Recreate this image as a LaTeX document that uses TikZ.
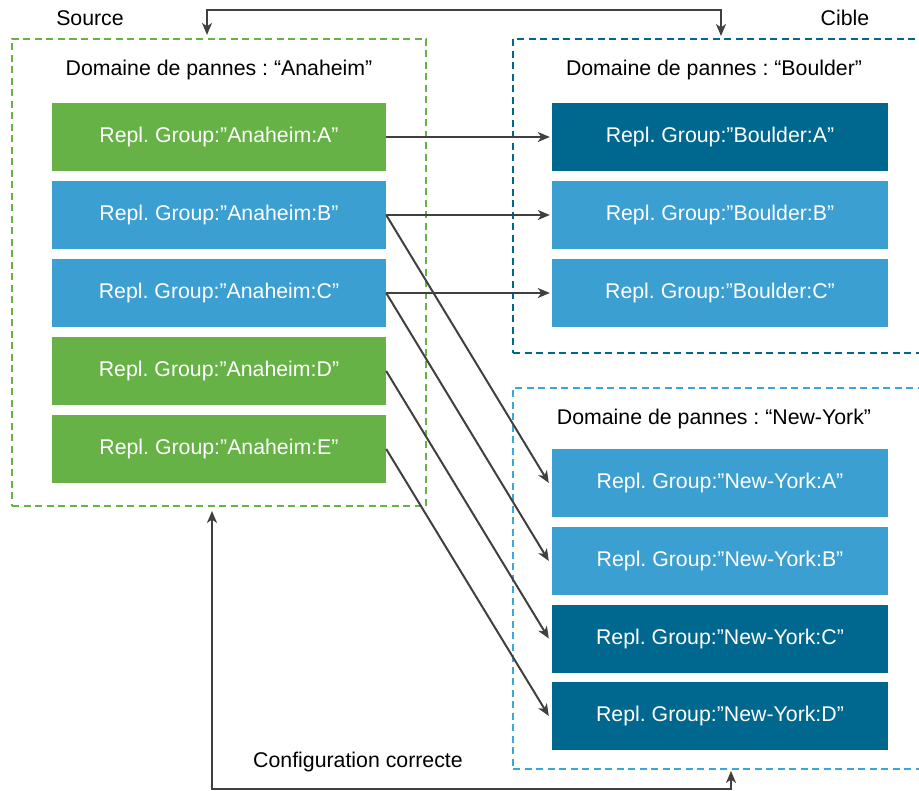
\documentclass[tikz,border=0pt]{standalone}
\usepackage{fontspec}
\setmainfont{Liberation Sans}
\usetikzlibrary{arrows.meta}
\definecolor{grn}{HTML}{67B246}
\definecolor{lblue}{HTML}{3C9FD2}
\definecolor{dblue}{HTML}{00688F}
\definecolor{nyline}{HTML}{3CA6DA}
\definecolor{arr}{HTML}{404040}
\frenchspacing
\begin{document}
\begin{tikzpicture}[x=1pt,y=-1pt,
  every node/.style={font=\fontsize{21.3}{25}\selectfont, inner sep=0pt},
  grp/.style={rectangle, minimum width=334pt, minimum height=68pt, text=white},
  grpr/.style={grp, minimum width=336pt},
  dbox/.style={draw, line width=2.2pt, dash pattern=on 7pt off 4.5pt},
  tip/.style={},
  conn/.style={draw=arr, line width=2pt, -{Stealth[length=12pt,width=10pt,inset=3.5pt]}},
  conn2/.style={draw=arr, line width=2pt, {Stealth[length=12pt,width=10pt,inset=3.5pt]}-{Stealth[length=12pt,width=10pt,inset=3.5pt]}},
  lbl/.style={text=black}]
\useasboundingbox (0,0) rectangle (919,791);
% domain boxes
\node[dbox, draw=grn, minimum width=414pt, minimum height=467pt] (src) at (219,272.5) {};
\node[dbox, draw=dblue, minimum width=412pt, minimum height=314pt] (bld) at (719,196) {};
\node[dbox, draw=nyline, minimum width=412pt, minimum height=381pt] (ny) at (719,578.5) {};
% labels
\node[lbl] (lsrc) at (90,18) {Source};
\node[lbl] (lcib) at (845,18) {Cible};
\node[lbl] (lana) at (219,70) {Domaine de pannes : “Anaheim”};
\node[lbl] (lbou) at (714,70) {Domaine de pannes : “Boulder”};
\node[lbl] (lnyk) at (714,419) {Domaine de pannes : “New-York”};
\node[lbl] (lcfg) at (358,762) {Configuration correcte};
% left groups
\node[grp, fill=grn]   (la) at (219,137) {Repl. Group:”Anaheim:A”};
\node[grp, fill=lblue] (lb) at (219,215) {Repl. Group:”Anaheim:B”};
\node[grp, fill=lblue] (lc) at (219,293) {Repl. Group:”Anaheim:C”};
\node[grp, fill=grn]   (ld) at (219,371) {Repl. Group:”Anaheim:D”};
\node[grp, fill=grn]   (le) at (219,449) {Repl. Group:”Anaheim:E”};
% right groups
\node[grpr, fill=dblue] (ba) at (720,137) {Repl. Group:”Boulder:A”};
\node[grpr, fill=lblue] (bb) at (720,215) {Repl. Group:”Boulder:B”};
\node[grpr, fill=lblue] (bc) at (720,293) {Repl. Group:”Boulder:C”};
\node[grpr, fill=lblue] (na) at (720,483) {Repl. Group:”New-York:A”};
\node[grpr, fill=lblue] (nb) at (720,561) {Repl. Group:”New-York:B”};
\node[grpr, fill=dblue] (nc) at (720,638.5) {Repl. Group:”New-York:C”};
\node[grpr, fill=dblue] (nd) at (720,716) {Repl. Group:”New-York:D”};
% connectors
\draw[conn] (la.east) -- ([xshift=-2pt]ba.west);
\draw[conn] (lb.east) -- ([xshift=-2pt]bb.west);
\draw[conn] (lc.east) -- ([xshift=-2pt]bc.west);
\draw[conn] (lb.east) -- ([xshift=-3pt]na.west);
\draw[conn] (lc.east) -- ([xshift=-3pt]nb.west);
\draw[conn] (ld.east) -- ([xshift=-3pt]nc.west);
\draw[conn] (le.east) -- ([xshift=-3pt]nd.west);
% top and bottom links
\coordinate (ts) at ([xshift=-12pt,yshift=3pt]src.north);
\coordinate (tb) at (721,36);
\draw[conn2] (ts) -- (ts |- 0,10) -- (tb |- 0,10) -- (tb);
\coordinate (bs) at (212,511);
\coordinate (bn) at (731,771);
\draw[conn2] (bs) -- (bs |- 0,789) -- (bn |- 0,789) -- (bn);
\end{tikzpicture}
\end{document}
